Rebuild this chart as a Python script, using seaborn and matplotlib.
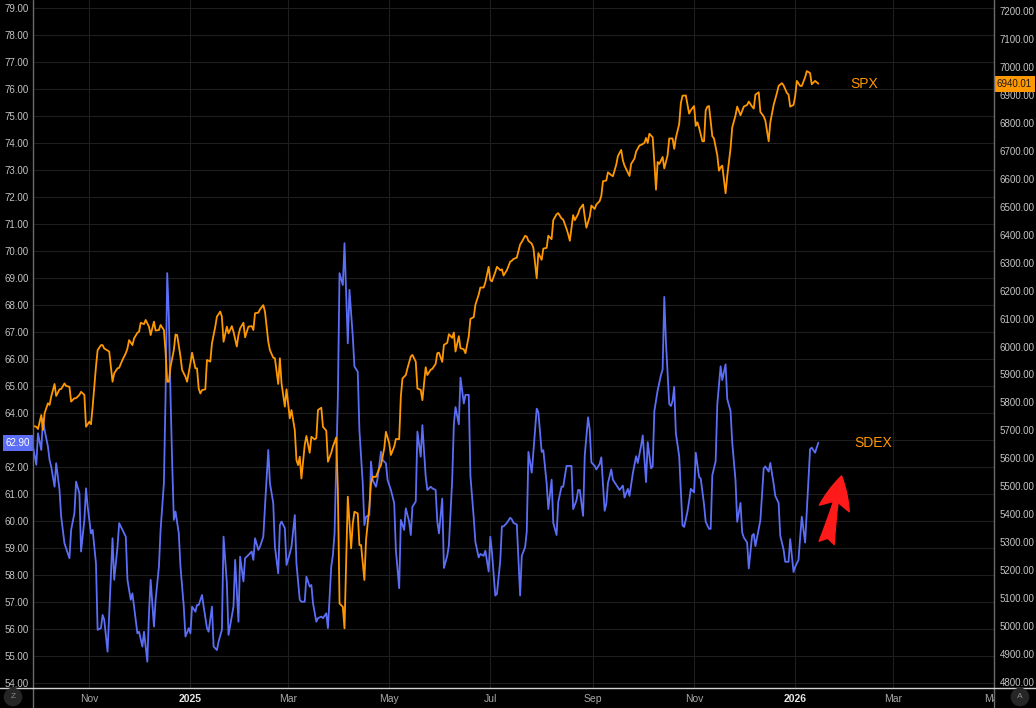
import pandas as pd
import matplotlib.pyplot as plt
from matplotlib.lines import Line2D
from matplotlib.patches import Rectangle
import seaborn as sns

# x values are days counted from this date
start = pd.Timestamp("2024-09-28")

sdex_day = [0, 2, 3, 5, 6, 7, 9, 10, 11, 13, 14, 16, 17, 19, 20, 22, 23, 25, 26, 28,
            29, 31, 32, 33, 35, 36, 38, 39, 41, 42, 43, 45, 46, 48, 49, 51, 52, 54, 56, 57,
            59, 60, 61, 63, 64, 66, 67, 69, 70, 71, 73, 74, 76, 77, 79, 80, 81, 82, 83, 84,
            85, 86, 88, 89, 91, 92, 94, 95, 96, 98, 99, 100, 102, 103, 105, 106, 108, 109, 111, 112,
            114, 115, 117, 118, 121, 122, 124, 125, 127, 128, 130, 132, 133, 134, 136, 137, 139, 140, 142, 143,
            145, 146, 148, 149, 150, 152, 153, 155, 156, 158, 159, 161, 162, 164, 165, 167, 168, 169, 171, 172,
            174, 175, 177, 178, 180, 181, 182, 184, 185, 187, 188, 190, 191, 193, 194, 196, 197, 199, 200, 201,
            203, 204, 205, 207, 208, 210, 211, 213, 214, 216, 218, 219, 221, 222, 224, 225, 227, 228, 229, 231,
            232, 234, 235, 237, 238, 240, 241, 243, 244, 245, 247, 248, 250, 251, 253, 254, 255, 257, 258, 260,
            261, 263, 264, 266, 267, 269, 270, 272, 273, 275, 276, 277, 279, 280, 282, 283, 284, 286, 288, 289,
            290, 292, 294, 295, 297, 298, 299, 301, 302, 304, 305, 307, 308, 310, 311, 313, 314, 316, 317, 319,
            320, 322, 323, 325, 326, 328, 329, 330, 332, 333, 335, 336, 337, 339, 340, 342, 343, 345, 346, 347,
            349, 350, 352, 354, 356, 357, 359, 360, 362, 364, 365, 367, 368, 370, 371, 373, 374, 375, 377, 379,
            380, 381, 382, 384, 385, 386, 387, 388, 390, 391, 392, 393, 395, 396, 397, 399, 400, 402, 403, 405,
            406, 408, 409, 410, 412, 413, 415, 416, 418, 419, 421, 422, 424, 425, 427, 428, 429, 431, 432, 434,
            435, 436, 438, 439, 441, 442, 444, 445, 447, 448, 450, 451, 453, 454, 456, 457, 459, 460, 462, 463,
            464, 466, 467, 469, 470, 472, 474]
sdex_val = [62.76, 62.08, 63.25, 62.63, 63.80, 63.37, 62.76, 62.26, 62.01, 61.27, 62.14, 61.15, 60.16, 59.17, 58.99, 58.62, 59.67, 60.29, 61.46, 61.03,
            58.87, 60.04, 61.21, 60.53, 59.54, 59.67, 58.43, 55.97, 56.03, 56.52, 56.34, 55.16, 56.58, 59.36, 57.82, 59.05, 59.92, 59.67, 59.42, 57.82,
            57.08, 57.32, 56.83, 55.84, 55.90, 55.35, 55.90, 54.79, 56.58, 57.82, 56.09, 57.08, 58.31, 59.67, 61.40, 64.60, 69.18, 67.57, 64.61, 62.14,
            60.04, 60.35, 59.54, 58.31, 56.83, 55.72, 56.03, 55.84, 56.83, 56.64, 56.89, 56.89, 57.26, 56.83, 56.03, 55.90, 56.83, 55.35, 55.22, 55.53,
            55.97, 59.42, 57.70, 55.78, 56.83, 58.56, 56.27, 58.68, 57.76, 58.62, 58.74, 58.87, 58.56, 59.36, 58.93, 59.05, 59.42, 60.53, 62.63, 61.40,
            60.66, 59.05, 58.06, 59.85, 59.98, 59.73, 58.37, 58.80, 59.05, 60.22, 58.43, 57.08, 57.01, 57.01, 57.94, 57.57, 57.63, 56.95, 56.27, 56.40,
            56.46, 56.40, 56.58, 56.03, 58.31, 58.74, 59.54, 64.61, 69.18, 68.74, 70.29, 66.58, 68.56, 66.83, 65.72, 65.53, 63.37, 61.40, 59.85, 60.16,
            60.22, 62.20, 61.52, 61.27, 61.58, 62.57, 62.26, 62.14, 61.52, 61.15, 60.66, 58.93, 57.51, 60.04, 59.67, 60.47, 59.98, 59.48, 60.53, 60.72,
            63.31, 62.38, 63.55, 61.65, 61.15, 61.27, 61.21, 61.15, 59.99, 59.54, 60.83, 58.26, 58.71, 59.10, 61.53, 63.58, 64.22, 63.58, 65.31, 64.35,
            64.67, 64.67, 61.66, 60.12, 59.22, 58.65, 58.78, 58.71, 58.90, 58.13, 59.42, 58.84, 57.24, 57.30, 58.52, 59.80, 59.80, 59.93, 60.12, 60.06,
            59.93, 59.87, 57.24, 58.71, 59.03, 59.61, 62.56, 61.79, 62.56, 64.16, 64.03, 62.56, 62.62, 61.40, 60.44, 61.53, 59.93, 59.48, 60.70, 61.27,
            61.27, 62.04, 62.04, 62.04, 60.44, 60.76, 61.15, 61.15, 60.19, 62.43, 63.84, 63.39, 62.17, 62.04, 61.91, 62.11, 62.36, 60.38, 60.63, 61.40,
            61.91, 61.53, 61.34, 61.15, 61.31, 60.87, 61.19, 60.93, 61.76, 62.40, 62.15, 62.79, 63.17, 61.44, 62.92, 61.95, 62.02, 64.07, 64.84, 65.41,
            65.61, 68.30, 66.63, 64.33, 64.26, 64.45, 64.97, 63.24, 62.40, 61.12, 59.84, 59.78, 60.35, 60.74, 61.19, 61.06, 62.53, 61.63, 61.57, 60.61,
            59.97, 59.71, 59.71, 61.70, 62.21, 64.33, 65.73, 65.22, 65.80, 64.52, 64.07, 62.92, 61.50, 59.97, 60.67, 59.58, 59.39, 59.20, 58.24, 59.46,
            59.52, 59.07, 59.71, 60.03, 61.95, 62.02, 61.83, 62.15, 61.38, 60.93, 60.67, 59.46, 58.94, 58.49, 58.49, 59.33, 58.11, 58.30, 58.56, 59.39,
            60.16, 59.20, 60.35, 62.66, 62.72, 62.53, 62.90]

spx_day = [0, 2, 3, 5, 6, 7, 9, 10, 11, 13, 14, 16, 17, 19, 20, 22, 23, 25, 26, 28,
           29, 31, 32, 34, 35, 36, 38, 39, 41, 42, 43, 46, 47, 48, 49, 51, 52, 54, 56, 57,
           58, 60, 61, 63, 64, 65, 67, 68, 70, 71, 73, 74, 76, 77, 79, 80, 81, 82, 83, 85,
           86, 87, 89, 90, 92, 93, 95, 96, 98, 99, 100, 101, 102, 104, 105, 107, 108, 110, 111, 113,
           114, 115, 117, 118, 120, 121, 123, 124, 125, 127, 128, 130, 132, 133, 134, 136, 137, 139, 140, 142,
           143, 145, 146, 148, 149, 150, 152, 153, 155, 156, 158, 159, 160, 161, 162, 164, 165, 167, 168, 170,
           171, 172, 174, 175, 177, 178, 180, 181, 183, 184, 185, 187, 188, 189, 190, 192, 193, 194, 196, 197,
           198, 200, 201, 203, 204, 205, 207, 209, 210, 212, 213, 215, 216, 218, 219, 221, 222, 223, 225, 226,
           228, 229, 231, 232, 234, 235, 237, 238, 240, 241, 243, 244, 245, 247, 248, 250, 251, 253, 254, 255,
           257, 258, 260, 261, 263, 264, 266, 267, 269, 270, 272, 273, 275, 276, 277, 279, 280, 282, 283, 284,
           286, 288, 289, 290, 292, 294, 295, 297, 298, 299, 301, 302, 304, 305, 307, 308, 310, 311, 313, 314,
           316, 317, 319, 320, 322, 323, 324, 326, 327, 329, 330, 332, 333, 334, 336, 337, 339, 340, 342, 343,
           344, 346, 347, 349, 350, 352, 353, 355, 356, 357, 360, 361, 363, 364, 366, 367, 369, 370, 371, 372,
           374, 375, 376, 377, 378, 380, 381, 383, 384, 386, 387, 388, 390, 391, 392, 394, 396, 397, 399, 400,
           401, 402, 404, 405, 406, 407, 408, 410, 411, 413, 414, 415, 416, 418, 419, 421, 422, 424, 425, 427,
           428, 429, 431, 432, 434, 435, 436, 438, 439, 441, 442, 444, 445, 447, 449, 450, 452, 453, 455, 456,
           457, 459, 460, 461, 463, 464, 466, 467, 469, 470, 472, 474]
spx_val = [5716, 5713, 5705, 5755, 5701, 5761, 5797, 5791, 5821, 5866, 5823, 5847, 5848, 5868, 5859, 5856, 5803, 5815, 5815, 5827,
           5838, 5827, 5713, 5731, 5722, 5785, 5928, 5987, 6005, 6005, 5993, 5982, 5928, 5874, 5904, 5922, 5924, 5952, 5976, 5993,
           6023, 6005, 6029, 6049, 6053, 6085, 6080, 6095, 6071, 6041, 6089, 6057, 6059, 6077, 6059, 5981, 5874, 5874, 5928, 5987,
           6043, 6041, 5964, 5916, 5892, 5874, 5940, 5978, 5922, 5922, 5850, 5832, 5844, 5847, 5952, 5946, 6011, 6071, 6107, 6125,
           6107, 6017, 6071, 6047, 6073, 6053, 6000, 6041, 6065, 6085, 6033, 6071, 6073, 6059, 6119, 6121, 6133, 6148, 6125, 6017,
           5987, 5960, 5958, 5866, 5958, 5868, 5785, 5847, 5743, 5773, 5701, 5594, 5576, 5606, 5528, 5648, 5680, 5620, 5677, 5668,
           5672, 5773, 5781, 5713, 5699, 5588, 5620, 5642, 5675, 5487, 5081, 5069, 4992, 5224, 5463, 5278, 5367, 5409, 5403, 5290,
           5290, 5165, 5308, 5427, 5511, 5534, 5534, 5564, 5576, 5636, 5695, 5654, 5612, 5642, 5669, 5669, 5821, 5886, 5898, 5922,
           5964, 5970, 5946, 5850, 5845, 5808, 5926, 5898, 5917, 5920, 5938, 5976, 5978, 5945, 6006, 6013, 6044, 6031, 6050, 5982,
           6037, 5994, 5990, 5976, 6037, 6099, 6105, 6149, 6186, 6211, 6211, 6229, 6285, 6238, 6233, 6266, 6285, 6273, 6276, 6254,
           6273, 6303, 6307, 6313, 6318, 6365, 6374, 6396, 6393, 6378, 6368, 6353, 6244, 6334, 6310, 6350, 6353, 6396, 6384, 6452,
           6473, 6477, 6458, 6454, 6421, 6402, 6378, 6470, 6452, 6474, 6492, 6508, 6464, 6425, 6464, 6504, 6492, 6508, 6520, 6539,
           6591, 6594, 6623, 6613, 6609, 6650, 6681, 6703, 6666, 6647, 6610, 6653, 6672, 6697, 6719, 6721, 6728, 6746, 6728, 6761,
           6748, 6660, 6561, 6660, 6653, 6678, 6637, 6684, 6744, 6744, 6707, 6746, 6796, 6870, 6897, 6898, 6833, 6845, 6860, 6789,
           6802, 6783, 6734, 6734, 6845, 6858, 6860, 6752, 6744, 6684, 6629, 6641, 6647, 6548, 6610, 6709, 6783, 6827, 6858, 6827,
           6843, 6858, 6864, 6876, 6858, 6851, 6901, 6909, 6839, 6823, 6808, 6734, 6802, 6864, 6907, 6932, 6942, 6934, 6907, 6901,
           6858, 6864, 6895, 6950, 6932, 6932, 6963, 6985, 6978, 6938, 6950, 6940.01]

tick_dates = ["2024-11-01", "2025-01-01", "2025-03-01", "2025-05-01", "2025-07-01",
              "2025-09-01", "2025-11-01", "2026-01-01", "2026-03-01", "2026-05-01"]
tick_labels = ["Nov", "2025", "Mar", "May", "Jul", "Sep", "Nov", "2026", "Mar", "May"]
sdex_ticks = list(range(54, 80))
spx_ticks = list(range(4800, 7201, 100))

sdex = pd.DataFrame({"date": start + pd.to_timedelta(sdex_day, unit="D"), "value": sdex_val})
spx = pd.DataFrame({"date": start + pd.to_timedelta(spx_day, unit="D"), "value": spx_val})

blue = "#5b6ef5"
orange = "#ff9800"

sns.set_theme(style="dark")
plt.rcParams["font.family"] = ["Liberation Sans", "DejaVu Sans"]

W, H = 1036, 708
fig = plt.figure(figsize=(W / 100, H / 100), dpi=100, facecolor="black")
ax = fig.add_axes([33 / W, 20 / H, 961 / W, 688 / H])
ax.set_facecolor("black")
ax2 = ax.twinx()

sns.lineplot(data=sdex, x="date", y="value", ax=ax, color=blue, linewidth=1.3)
sns.lineplot(data=spx, x="date", y="value", ax=ax2, color=orange, linewidth=1.3)

ax.set_xlim(start, pd.Timestamp("2026-05-01"))
ax.set_ylim(53.815, 79.296)
ax2.set_ylim(4778.7, 7239.3)

ax.set_xticks(pd.to_datetime(tick_dates))
ax.set_xticklabels(tick_labels)
ax.set_yticks(sdex_ticks)
ax.set_yticklabels([f"{v:.2f}" for v in sdex_ticks])
ax2.set_yticks(spx_ticks)
ax2.set_yticklabels([f"{v:.2f}" for v in spx_ticks])

for a in (ax, ax2):
    a.set_xlabel("")
    a.set_ylabel("")
    for s in a.spines.values():
        s.set_visible(False)

ax.grid(True, color="#1e1e1e", linewidth=0.8)
ax2.grid(False)

ax.tick_params(axis="y", length=0, pad=3, labelsize=7, labelcolor="#c4c4c4")
ax2.tick_params(axis="y", length=0, pad=4, labelsize=7, labelcolor="#c4c4c4")
ax.tick_params(axis="x", length=0, pad=4.5, labelsize=7.5, labelcolor="#a8a8a8")
for lab in ax.get_xticklabels():
    if lab.get_text().isdigit():
        lab.set_color("#e6e6e6")
        lab.set_fontweight("bold")

# last value tags on the scales
ax.annotate(f"{sdex_val[-1]:.2f}", xy=(0, sdex_val[-1]), xycoords=("axes fraction", "data"),
            xytext=(-2, 0), textcoords="offset points", ha="right", va="center",
            fontsize=7, color="white", annotation_clip=False, zorder=10,
            bbox=dict(boxstyle="square,pad=0.3", fc=blue, ec="none"))
ax2.annotate(f"{spx_val[-1]:.2f}", xy=(1, spx_val[-1]), xycoords=("axes fraction", "data"),
             xytext=(2, 0), textcoords="offset points", ha="left", va="center",
             fontsize=7, color="#1a1a1a", annotation_clip=False, zorder=10,
             bbox=dict(boxstyle="square,pad=0.3", fc=orange, ec="none"))

# series names next to the line ends
ax2.annotate("SPX", xy=(spx["date"].iloc[-1], spx_val[-1]), xytext=(23, 0),
             textcoords="offset points", ha="left", va="center", fontsize=10, color=orange)
ax.annotate("SDEX", xy=(sdex["date"].iloc[-1], sdex_val[-1]), xytext=(26, 0),
            textcoords="offset points", ha="left", va="center", fontsize=10, color=orange)

# red arrow
ax.annotate("", xy=(start + pd.Timedelta(days=488), 61.67), xytext=(start + pd.Timedelta(days=479), 59.19),
            arrowprops=dict(arrowstyle="fancy,head_length=0.6,head_width=0.55,tail_width=0.28",
                            color="#ff1a1a", mutation_scale=40, shrinkA=0, shrinkB=0))

# frame lines and corner buttons
fig.add_artist(Rectangle((994 / W, 0), 42 / W, 19.5 / H, transform=fig.transFigure,
                         fc="black", ec="none", zorder=5))
fig.add_artist(Line2D([33 / W, 33 / W], [0, 1], transform=fig.transFigure, color="#6b6b6b", lw=1, zorder=6))
fig.add_artist(Line2D([994 / W, 994 / W], [0, 1], transform=fig.transFigure, color="#6b6b6b", lw=1, zorder=6))
fig.add_artist(Line2D([0, 1], [20 / H, 20 / H], transform=fig.transFigure, color="#d0d0d0", lw=1, zorder=6))
fig.text(13 / W, 1 - 697 / H, "Z", ha="center", va="center", fontsize=6, color="#8a8a8a", zorder=7,
         bbox=dict(boxstyle="circle,pad=0.7", fc="#262626", ec="none"))
fig.text(1020 / W, 1 - 697 / H, "A", ha="center", va="center", fontsize=6, color="#8a8a8a", zorder=7,
         bbox=dict(boxstyle="circle,pad=0.7", fc="#262626", ec="none"))

fig.savefig("out.png", dpi=100, facecolor="black")
